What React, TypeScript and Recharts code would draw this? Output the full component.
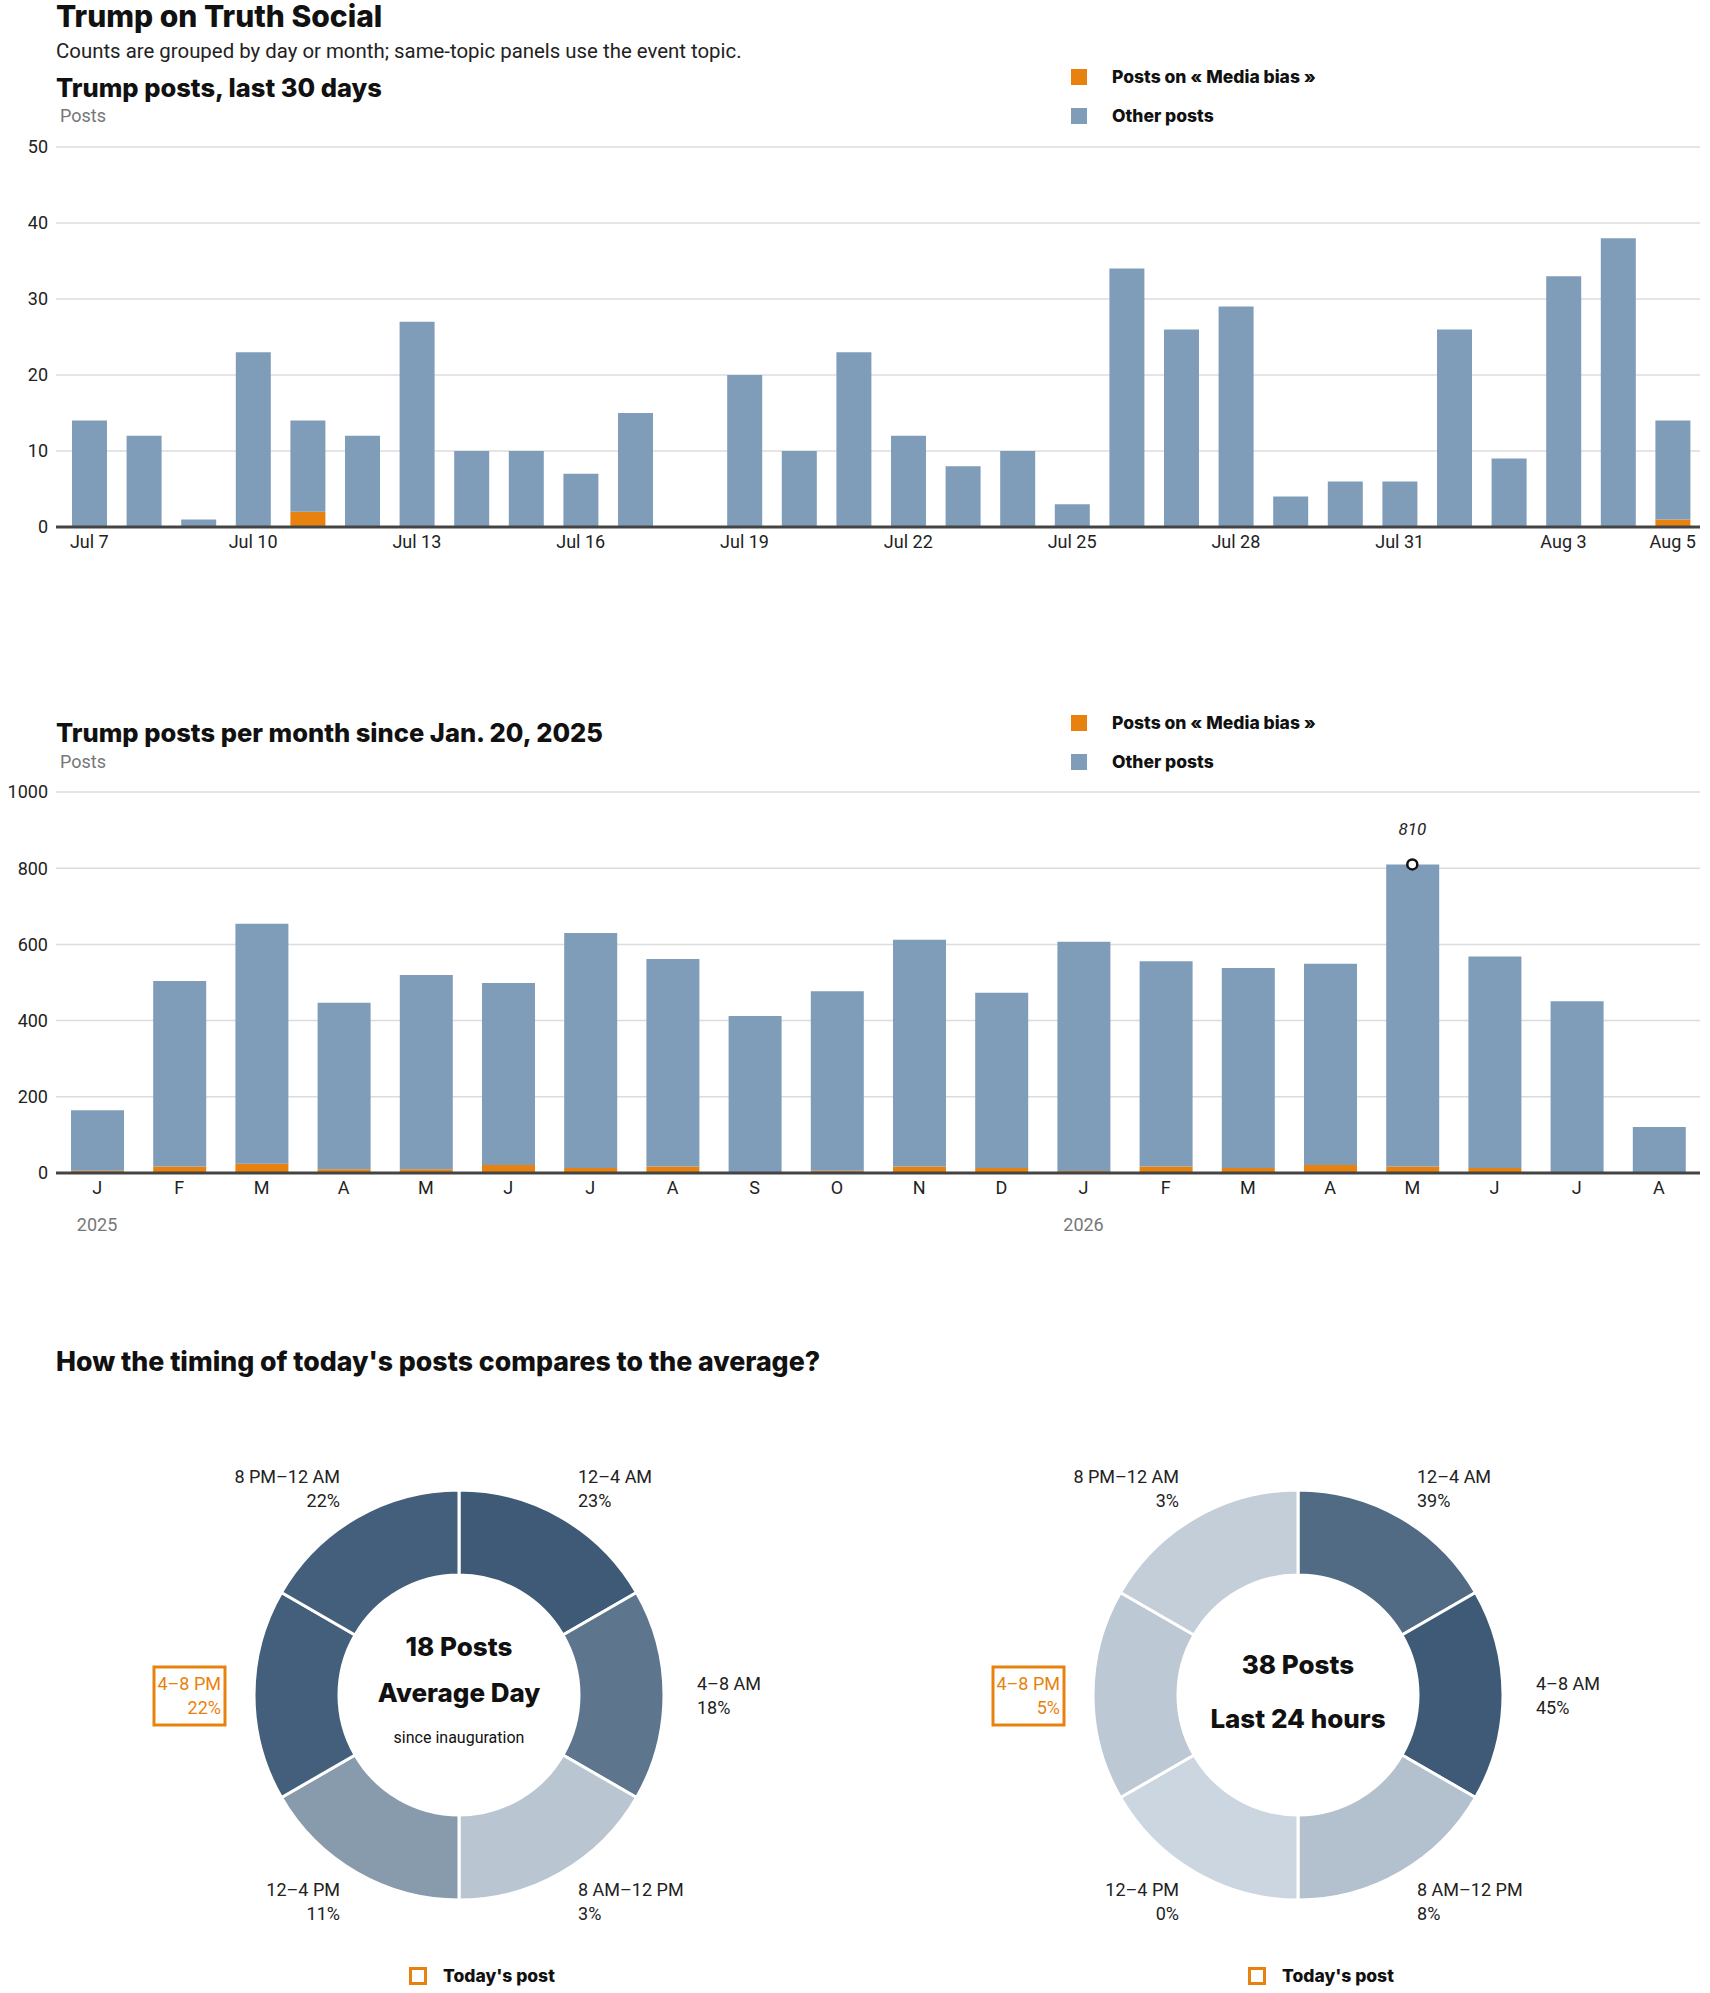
import React from "react";
import { BarChart, Bar, XAxis, YAxis, CartesianGrid, ReferenceDot, PieChart, Pie, Cell } from "recharts";

// ---- last 30 days ----
const dayLabels = [
  "Jul 7", "Jul 8", "Jul 9", "Jul 10", "Jul 11", "Jul 12", "Jul 13", "Jul 14", "Jul 15", "Jul 16",
  "Jul 17", "Jul 18", "Jul 19", "Jul 20", "Jul 21", "Jul 22", "Jul 23", "Jul 24", "Jul 25", "Jul 26",
  "Jul 27", "Jul 28", "Jul 29", "Jul 30", "Jul 31", "Aug 1", "Aug 2", "Aug 3", "Aug 4", "Aug 5",
];
const dayTotals = [14, 12, 1, 23, 14, 12, 27, 10, 10, 7, 15, 0, 20, 10, 23, 12, 8, 10, 3, 34, 26, 29, 4, 6, 6, 26, 9, 33, 38, 14];
const dayMedia = [0, 0, 0, 0, 2, 0, 0, 0, 0, 0, 0, 0, 0, 0, 0, 0, 0, 0, 0, 0, 0, 0, 0, 0, 0, 0, 0, 0, 0, 1];
const dayTicks = ["Jul 7", "Jul 10", "Jul 13", "Jul 16", "Jul 19", "Jul 22", "Jul 25", "Jul 28", "Jul 31", "Aug 3", "Aug 5"];
const dayYTicks = [0, 10, 20, 30, 40, 50];

// ---- per month ----
const monthKeys = [
  "Jan 2025", "Feb 2025", "Mar 2025", "Apr 2025", "May 2025", "Jun 2025", "Jul 2025", "Aug 2025", "Sep 2025", "Oct 2025",
  "Nov 2025", "Dec 2025", "Jan 2026", "Feb 2026", "Mar 2026", "Apr 2026", "May 2026", "Jun 2026", "Jul 2026", "Aug 2026",
];
const monthLetters = ["J", "F", "M", "A", "M", "J", "J", "A", "S", "O", "N", "D", "J", "F", "M", "A", "M", "J", "J", "A"];
const monthYears = ["2025", "2025", "2025", "2025", "2025", "2025", "2025", "2025", "2025", "2025", "2025", "2025",
  "2026", "2026", "2026", "2026", "2026", "2026", "2026", "2026"];
const monthTotals = [165, 504, 654, 447, 520, 499, 630, 562, 412, 477, 612, 473, 607, 556, 538, 549, 810, 568, 451, 121];
const monthMedia = [6, 17, 24, 10, 10, 21, 13, 17, 2, 6, 17, 13, 5, 17, 13, 21, 17, 13, 2, 1];
const monthYTicks = [0, 200, 400, 600, 800, 1000];

// ---- timing ----
const timeSlots = ["12–4 AM", "4–8 AM", "8 AM–12 PM", "12–4 PM", "4–8 PM", "8 PM–12 AM"];
const slotHours = [4, 4, 4, 4, 4, 4];
const averageShare = [23, 18, 3, 11, 22, 22];
const last24Share = [39, 45, 8, 0, 5, 3];
const todaySlot = "4–8 PM";
const averagePosts = 18;
const last24Posts = 38;

const ORANGE = "#e8820e";
const BLUE = "#7f9db9";
const FONT = "Roboto, 'Noto Sans', sans-serif";
const HEAD = "Inter, Roboto, sans-serif";

const dayData = dayLabels.map((day, i) => ({ day, media: dayMedia[i], other: dayTotals[i] - dayMedia[i] }));
const monthData = monthKeys.map((key, i) => ({ key, media: monthMedia[i], other: monthTotals[i] - monthMedia[i] }));
const peakIndex = monthTotals.indexOf(Math.max(...monthTotals));

const Txt = ({ x, y, size = 18, weight = 400, color = "#222", head = false, children }: any) => (
  <div style={{ position: "absolute", left: x, top: y, transform: "translateY(-50%)", fontSize: size, fontWeight: weight, color, lineHeight: 1, whiteSpace: "nowrap", fontFamily: head ? HEAD : FONT }}>
    {children}
  </div>
);

const LegendBlock = ({ top }: { top: number }) => (
  <>
    <div style={{ position: "absolute", left: 1071, top: top - 8, width: 16, height: 16, background: ORANGE }} />
    <Txt x={1112} y={top} size={17.5} weight={800} color="#111" head>Posts on « Media bias »</Txt>
    <div style={{ position: "absolute", left: 1071, top: top + 31, width: 16, height: 16, background: BLUE }} />
    <Txt x={1112} y={top + 39} size={17.5} weight={800} color="#111" head>Other posts</Txt>
  </>
);

const MonthTick = (props: any) => {
  const { x, y, payload } = props;
  const i = monthKeys.indexOf(payload.value);
  const newYear = i === 0 || monthYears[i] !== monthYears[i - 1];
  return (
    <g>
      <text x={x} y={y} dy="0.71em" textAnchor="middle" fill="#222" fontSize={18}>{monthLetters[i]}</text>
      {newYear && (
        <text x={x} y={y + 37} dy="0.71em" textAnchor="middle" fill="#777" fontSize={18}>{monthYears[i]}</text>
      )}
    </g>
  );
};

const shade = (share: number, max: number) => {
  const t = max ? share / max : 0;
  const a = [204, 214, 224];
  const b = [62, 90, 118];
  const c = a.map((v, k) => Math.round(v + (b[k] - v) * t));
  return `rgb(${c[0]},${c[1]},${c[2]})`;
};

const makeLabel = (shares: number[]) => (props: any) => {
  const { cx, cy, midAngle, outerRadius, index } = props;
  const rad = (midAngle * Math.PI) / 180;
  const r = outerRadius + 33;
  const x = cx + r * Math.cos(rad);
  const y = cy - r * Math.sin(rad);
  const anchor = Math.cos(rad) > 0.01 ? "start" : "end";
  const slot = timeSlots[index];
  const today = slot === todaySlot;
  const color = today ? ORANGE : "#222";
  return (
    <g key={`lbl-${index}`}>
      {today && <rect x={x - 67} y={y - 28} width={71} height={58} fill="none" stroke={ORANGE} strokeWidth={3} />}
      <text x={x} y={y - 12} textAnchor={anchor} dominantBaseline="central" fill={color} fontSize={18}>{slot}</text>
      <text x={x} y={y + 12} textAnchor={anchor} dominantBaseline="central" fill={color} fontSize={18}>{shares[index]}%</text>
    </g>
  );
};

const Donut = ({ left, cx, shares, lines }: { left: number; cx: number; shares: number[]; lines: React.ReactNode }) => {
  const max = Math.max(...shares);
  const data = timeSlots.map((slot, i) => ({ slot, hours: slotHours[i], share: shares[i] }));
  const cy = 315;
  return (
    <div style={{ position: "absolute", left, top: 1380, width: 855, height: 613 }}>
      <PieChart width={855} height={613} margin={{ top: 0, right: 0, bottom: 0, left: 0 }}>
        <Pie
          data={data}
          dataKey="hours"
          nameKey="slot"
          cx={cx}
          cy={cy}
          innerRadius={120}
          outerRadius={205}
          startAngle={90}
          endAngle={-270}
          stroke="#fff"
          strokeWidth={3}
          label={makeLabel(shares)}
          labelLine={false}
          isAnimationActive={false}
        >
          {data.map((d, i) => <Cell key={i} fill={shade(d.share, max)} />)}
        </Pie>
      </PieChart>
      <div style={{ position: "absolute", left: cx - 150, width: 300, top: 0, height: 613, textAlign: "center" }}>
        {lines}
      </div>
      <div style={{ position: "absolute", left: cx - 50, top: 587, width: 12, height: 12, border: `3px solid ${ORANGE}` }} />
      <Txt x={cx - 16} y={596} size={17.5} weight={800} color="#111" head>Today's post</Txt>
    </div>
  );
};

const centerLine = (y: number, size: number, weight: number, text: string, head = true) => (
  <div style={{ position: "absolute", left: 0, right: 0, top: y, transform: "translateY(-50%)", fontSize: size, fontWeight: weight, color: "#111", lineHeight: 1, fontFamily: head ? HEAD : FONT }}>
    {text}
  </div>
);

export default function App() {
  return (
    <div style={{ position: "absolute", left: 0, top: 0, width: 1710, height: 1993, background: "#fff", fontFamily: FONT, color: "#222" }}>
      <Txt x={56} y={16} size={30} weight={800} color="#111" head>Trump on Truth Social</Txt>
      <Txt x={56} y={51} size={20.4}>Counts are grouped by day or month; same-topic panels use the event topic.</Txt>
      <Txt x={56} y={88} size={25.5} weight={800} color="#111" head>Trump posts, last 30 days</Txt>
      <Txt x={60} y={116} size={18} color="#777">Posts</Txt>
      <LegendBlock top={77} />

      <div style={{ position: "absolute", left: 0, top: 0, width: 1710, height: 620 }}>
        <BarChart width={1710} height={620} data={dayData} margin={{ top: 147, right: 10, left: 0, bottom: 63 }} barSize={35}>
          <CartesianGrid vertical={false} stroke="#dcdcdc" strokeWidth={1.5} />
          <YAxis domain={[0, 50]} ticks={dayYTicks} width={56} axisLine={false} tickLine={false} tick={{ fill: "#222", fontSize: 18 }} />
          <XAxis
            dataKey="day"
            ticks={dayTicks}
            interval={0}
            height={30}
            padding={{ left: 6, right: 0 }}
            tickLine={false}
            axisLine={{ stroke: "#444", strokeWidth: 3 }}
            tick={{ fill: "#222", fontSize: 18 }}
          />
          <Bar dataKey="media" stackId="a" fill={ORANGE} isAnimationActive={false} />
          <Bar dataKey="other" stackId="a" fill={BLUE} isAnimationActive={false} />
        </BarChart>
      </div>

      <Txt x={56} y={733} size={25.5} weight={800} color="#111" head>Trump posts per month since Jan. 20, 2025</Txt>
      <Txt x={60} y={762} size={18} color="#777">Posts</Txt>
      <LegendBlock top={723} />

      <div style={{ position: "absolute", left: 0, top: 600, width: 1710, height: 680 }}>
        <BarChart width={1710} height={680} data={monthData} margin={{ top: 192, right: 10, left: 0, bottom: 47 }} barSize={53}>
          <CartesianGrid vertical={false} stroke="#dcdcdc" strokeWidth={1.5} />
          <YAxis domain={[0, 1000]} ticks={monthYTicks} width={56} axisLine={false} tickLine={false} tick={{ fill: "#222", fontSize: 18 }} />
          <XAxis
            dataKey="key"
            interval={0}
            height={60}
            tickLine={false}
            axisLine={{ stroke: "#444", strokeWidth: 3 }}
            tick={<MonthTick />}
          />
          <Bar dataKey="media" stackId="a" fill={ORANGE} isAnimationActive={false} />
          <Bar dataKey="other" stackId="a" fill={BLUE} isAnimationActive={false} />
          <ReferenceDot
            x={monthKeys[peakIndex]}
            y={monthTotals[peakIndex]}
            r={5}
            fill="#fff"
            stroke="#111"
            strokeWidth={2.5}
            label={{ value: String(monthTotals[peakIndex]), position: "top", offset: 24, fontStyle: "italic", fontSize: 17, fill: "#222" }}
          />
        </BarChart>
      </div>

      <Txt x={56} y={1361} size={26.7} weight={800} color="#111" head>How the timing of today's posts compares to the average?</Txt>

      <Donut
        left={0}
        cx={459}
        shares={averageShare}
        lines={
          <>
            {centerLine(267, 26, 800, `${averagePosts} Posts`)}
            {centerLine(313, 26, 800, "Average Day")}
            {centerLine(358, 16, 400, "since inauguration", false)}
          </>
        }
      />
      <Donut
        left={855}
        cx={443}
        shares={last24Share}
        lines={
          <>
            {centerLine(285, 26, 800, `${last24Posts} Posts`)}
            {centerLine(339, 26, 800, "Last 24 hours")}
          </>
        }
      />
    </div>
  );
}
